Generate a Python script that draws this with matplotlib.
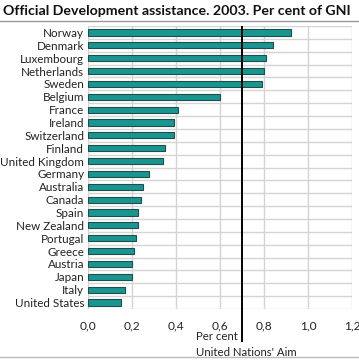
import numpy as np
import matplotlib.pyplot as plt

plt.rcParams['font.family'] = ['Lato', 'DejaVu Sans']

countries = ["Norway", "Denmark", "Luxembourg", "Netherlands", "Sweden", "Belgium",
             "France", "Ireland", "Switzerland", "Finland", "United Kingdom", "Germany",
             "Australia", "Canada", "Spain", "New Zealand", "Portugal", "Greece",
             "Austria", "Japan", "Italy", "United States"]
values = [0.92, 0.84, 0.81, 0.80, 0.79, 0.60, 0.41, 0.39, 0.39, 0.35, 0.34, 0.28,
          0.25, 0.24, 0.23, 0.23, 0.22, 0.21, 0.20, 0.20, 0.17, 0.15]
xticks = [0.0, 0.2, 0.4, 0.6, 0.8, 1.0, 1.2]
un_aim = 0.7

fig = plt.figure(figsize=(3.59, 3.61), dpi=100)
ax = fig.add_axes([0.2443, 0.144, 0.737, 0.784])

y = np.arange(len(countries))
ax.barh(y, values, height=0.48, color='#1a9690', edgecolor='#1f4f4c', linewidth=0.8, zorder=3)
ax.set_ylim(len(countries) - 0.5, -0.5)
ax.set_xlim(0, 1.2)
ax.set_yticks(y)
ax.set_yticklabels(countries, fontsize=8.4, color='#222222')
ax.set_yticks(np.arange(-0.5, len(countries), 1), minor=True)
ax.set_xticks(xticks)
ax.set_xticklabels([f"{t:.1f}".replace('.', ',') for t in xticks], fontsize=8.6, color='#222222')
ax.tick_params(axis='both', which='both', length=0)
ax.tick_params(axis='y', pad=2.5)
ax.tick_params(axis='x', pad=8)
ax.grid(axis='x', color='#d4d4d4', linewidth=1, zorder=0)
ax.grid(axis='y', which='minor', color='#d4d4d4', linewidth=1, zorder=0)
for s in ax.spines.values():
    s.set_visible(False)

# UN aim line, extending below the axis
ax.axvline(un_aim, color='black', linewidth=1.4, zorder=4)
ax.plot([un_aim, un_aim], [len(countries) - 0.5, len(countries) + 2.0], color='black',
        linewidth=1.4, clip_on=False, zorder=4)
ax.text(0.49, len(countries) + 1.65, "Per cent", fontsize=8.2, color='#222222', va='center')
ax.text(0.49, len(countries) + 2.85, "United Nations' Aim", fontsize=8.2, color='#222222', va='center')

fig.text(0.008, 0.985, "Official Development assistance. 2003. Per cent of GNI",
         fontsize=10.2, fontweight='bold', va='top', ha='left', color='#111111')
fig.add_artist(plt.Line2D([0, 1], [1 - 20.7 / 361, 1 - 20.7 / 361], color='#999999', linewidth=1))
fig.add_artist(plt.Line2D([0, 1], [1 - 357 / 361, 1 - 357 / 361], color='#bbbbbb', linewidth=1))

fig.savefig("out.png", dpi=100)
